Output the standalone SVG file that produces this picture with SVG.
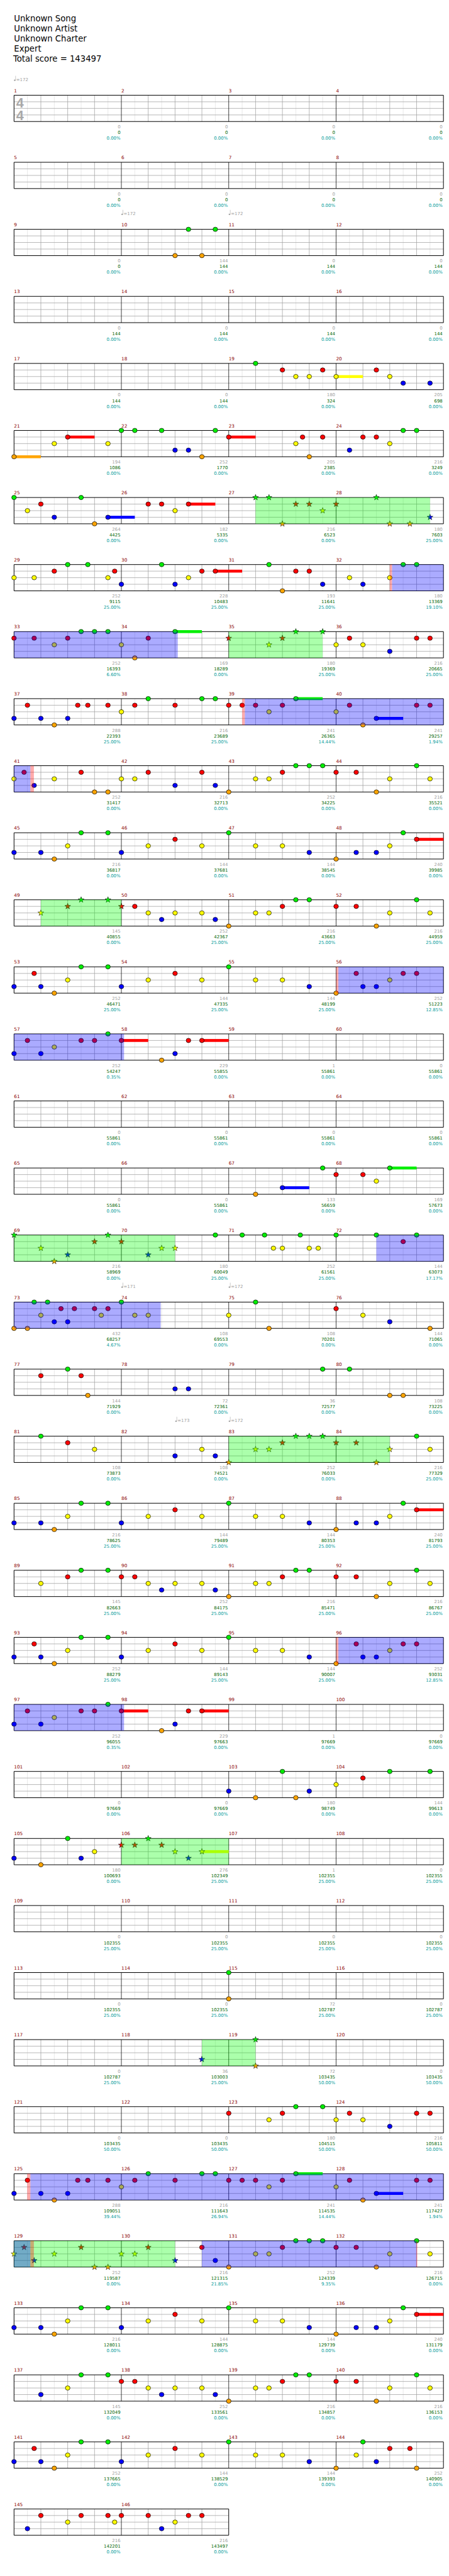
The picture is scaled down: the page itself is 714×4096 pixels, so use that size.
<svg xmlns="http://www.w3.org/2000/svg" width="714" height="4096" viewBox="0 0 714 4096">
<style>
text{font-family:"DejaVu Sans",sans-serif}
.h{font-size:19px;fill:#000}
.mn{font-size:10.5px;fill:#8b0000}
.a,.b,.c{font-size:10px;text-anchor:end}
.a{fill:#a0a0a0}.b{fill:#006400}.c{fill:#009a9a}
.t{font-size:10px;fill:#a0a0a0}
.ts{font-family:"Liberation Sans",Arial,sans-serif;font-weight:bold;font-size:31px;fill:#a8a8a8}
.gl,.gb,.gm,.gf{vector-effect:non-scaling-stroke;stroke-width:.75;fill:none}
.gl{stroke:#e2e2e2}.gb{stroke:#a0a0a0}.gm{stroke:#000}
.gf{stroke:#000;stroke-width:1}
.n{stroke:#000;stroke-width:1}
.m{stroke:#000;stroke-width:.8}
.so{fill:#00f;fill-opacity:.33}.sp{fill:#0f0;fill-opacity:.33}.sa{fill:#f00;fill-opacity:.33}
.zg{fill:#0e0}.zr{fill:#f00}.zy{fill:#ff0}.zb{fill:#00f}.zo{fill:#ffa500}
</style>
<defs>
<polygon id="st" points="0,-7 1.65,-2.27 6.66,-2.16 2.66,.87 4.11,5.66 0,2.8 -4.11,5.66 -2.66,.87 -6.66,-2.16 -1.65,-2.27"/>
<ellipse id="el" rx="5.3" ry="5"/>
<g id="g"><use href="#el" class="n" fill="#0e0" transform="scale(.032653,.066667)"/></g>
<g id="r"><use href="#el" class="n" fill="#f00" transform="translate(0,1) scale(.032653,.066667)"/></g>
<g id="y"><use href="#el" class="n" fill="#ff0" transform="translate(0,2) scale(.032653,.066667)"/></g>
<g id="b"><use href="#el" class="n" fill="#00f" transform="translate(0,3) scale(.032653,.066667)"/></g>
<g id="o"><use href="#el" class="n" fill="#ffa500" transform="translate(0,4) scale(.032653,.066667)"/></g>
<g id="G"><use href="#st" class="m" fill="#0e0" transform="scale(.032653,.066667)"/></g>
<g id="R"><use href="#st" class="m" fill="#f00" transform="translate(0,1) scale(.032653,.066667)"/></g>
<g id="Y"><use href="#st" class="m" fill="#ff0" transform="translate(0,2) scale(.032653,.066667)"/></g>
<g id="B"><use href="#st" class="m" fill="#00f" transform="translate(0,3) scale(.032653,.066667)"/></g>
<g id="O"><use href="#st" class="m" fill="#ffa500" transform="translate(0,4) scale(.032653,.066667)"/></g>
<g id="grid4">
<path class="gl" d="M1 0V4M3 0V4M5 0V4M7 0V4M9 0V4M11 0V4M13 0V4M15 0V4M17 0V4M19 0V4M21 0V4M23 0V4M25 0V4M27 0V4M29 0V4M31 0V4"/>
<path class="gb" d="M2 0V4M4 0V4M6 0V4M10 0V4M12 0V4M14 0V4M18 0V4M20 0V4M22 0V4M26 0V4M28 0V4M30 0V4M0 1H32M0 2H32M0 3H32"/>
<path class="gm" d="M8 0V4M16 0V4M24 0V4"/>
<rect class="gf" width="32" height="4"/>
</g>
<g id="grid2">
<path class="gl" d="M1 0V4M3 0V4M5 0V4M7 0V4M9 0V4M11 0V4M13 0V4M15 0V4"/>
<path class="gb" d="M2 0V4M4 0V4M6 0V4M10 0V4M12 0V4M14 0V4M0 1H16M0 2H16M0 3H16"/>
<path class="gm" d="M8 0V4"/>
<rect class="gf" width="16" height="4"/>
</g>
<g id="tempo"><ellipse cx="1.7" cy="-1.8" rx="2" ry="1.5" fill="#a0a0a0"/><path d="M3.5-1.8V-12" stroke="#a0a0a0" stroke-width=".8"/></g>
<g id="pA"><rect class="zr" x="30" y=".78" width="2" height=".44"/><use href="#g" x="5"/><use href="#g" x="7"/><use href="#g" x="16"/><use href="#g" x="29"/><use href="#r" x="12"/><use href="#r" x="30"/><use href="#y" x="4"/><use href="#y" x="10"/><use href="#y" x="14"/><use href="#y" x="18"/><use href="#y" x="20"/><use href="#y" x="28"/><use href="#b" x="0"/><use href="#b" x="2"/><use href="#b" x="8"/><use href="#b" x="22"/><use href="#b" x="25.5"/><use href="#b" x="27"/><use href="#o" x="3"/><use href="#o" x="24"/></g>
<g id="pB"><use href="#g" x="5"/><use href="#g" x="7"/><use href="#g" x="16"/><use href="#r" x="1.5"/><use href="#r" x="12"/><use href="#r" x="25.5"/><use href="#r" x="29"/><use href="#r" x="30"/><use href="#y" x="4"/><use href="#y" x="10"/><use href="#y" x="14"/><use href="#y" x="18"/><use href="#y" x="20"/><use href="#y" x="28"/><use href="#b" x="0"/><use href="#b" x="2"/><use href="#b" x="8"/><use href="#b" x="22"/><use href="#b" x="26"/><use href="#b" x="27"/><use href="#o" x="3"/><use href="#o" x="24"/></g>
<g id="pC"><rect class="zr" x="8" y=".78" width="2" height=".44"/><rect class="zr" x="14" y=".78" width="2" height=".44"/><use href="#g" x="7"/><use href="#r" x="1"/><use href="#r" x="5"/><use href="#r" x="6"/><use href="#r" x="8"/><use href="#r" x="13"/><use href="#r" x="14"/><use href="#y" x="3"/><use href="#b" x="0"/><use href="#b" x="2"/><use href="#b" x="12"/><use href="#o" x="11"/></g>
<g id="pD"><rect class="zg" x="21" y="-.22" width="2" height=".44"/><rect class="zb" x="27" y="2.78" width="2" height=".44"/><use href="#g" x="10"/><use href="#g" x="14"/><use href="#g" x="15"/><use href="#g" x="21"/><use href="#r" x="1"/><use href="#r" x="4.75"/><use href="#r" x="5.5"/><use href="#r" x="7"/><use href="#r" x="9"/><use href="#r" x="12"/><use href="#r" x="16"/><use href="#r" x="17"/><use href="#r" x="18"/><use href="#r" x="20"/><use href="#r" x="25"/><use href="#r" x="30"/><use href="#r" x="31"/><use href="#y" x="8"/><use href="#y" x="19"/><use href="#y" x="24"/><use href="#b" x="0"/><use href="#b" x="2"/><use href="#b" x="4"/><use href="#b" x="27"/><use href="#o" x="3"/><use href="#o" x="26"/></g>
<g id="pE"><use href="#r" x="9"/><use href="#r" x="20"/><use href="#r" x="24"/><use href="#r" x="25.5"/><use href="#g" x="21"/><use href="#g" x="22"/><use href="#g" x="30"/><use href="#y" x="10"/><use href="#y" x="12"/><use href="#y" x="14"/><use href="#y" x="18"/><use href="#y" x="19"/><use href="#y" x="28"/><use href="#y" x="31"/><use href="#b" x="11"/><use href="#b" x="15"/><use href="#o" x="16"/><use href="#o" x="27"/></g>
</defs>
<rect width="714" height="4096" fill="#fff"/>
<g transform="scale(0.6968)">
<g id="header">
<text class="h" x="32" y="49.5">Unknown Song</text>
<text class="h" x="32" y="72.3">Unknown Artist</text>
<text class="h" x="32" y="95.1">Unknown Charter</text>
<text class="h" x="32" y="117.9">Expert</text>
<text class="h" x="30" y="140.7">Total score = 143497</text>
</g>
<g id="tempos">
<use href="#tempo" x="32" y="185"/><text class="t" x="37" y="185">=172</text>
<use href="#tempo" x="277" y="491"/><text class="t" x="282" y="491">=172</text>
<use href="#tempo" x="522" y="491"/><text class="t" x="527" y="491">=172</text>
<use href="#tempo" x="277" y="2939"/><text class="t" x="282" y="2939">=171</text>
<use href="#tempo" x="522" y="2939"/><text class="t" x="527" y="2939">=172</text>
<use href="#tempo" x="400" y="3245"/><text class="t" x="405" y="3245">=173</text>
<use href="#tempo" x="522" y="3245"/><text class="t" x="527" y="3245">=172</text>
</g>

<g id="row1" transform="translate(32,217.3)">
<text class="mn" y="-7"><tspan x="0">1</tspan><tspan x="245">2</tspan><tspan x="490">3</tspan><tspan x="735">4</tspan></text>
<g transform="scale(30.625,15)"><use href="#grid4"/></g>
<text class="ts" x="5" y="27.7">4</text><text class="ts" x="5" y="56.7">4</text>
<text class="a" y="75.5"><tspan x="243">0</tspan><tspan x="488">0</tspan><tspan x="733">0</tspan><tspan x="978">0</tspan></text>
<text class="b" y="88.5"><tspan x="243">0</tspan><tspan x="488">0</tspan><tspan x="733">0</tspan><tspan x="978">0</tspan></text>
<text class="c" y="101.5"><tspan x="243">0.00%</tspan><tspan x="488">0.00%</tspan><tspan x="733">0.00%</tspan><tspan x="978">0.00%</tspan></text>
</g>

<g id="row2" transform="translate(32,370.3)">
<text class="mn" y="-7"><tspan x="0">5</tspan><tspan x="245">6</tspan><tspan x="490">7</tspan><tspan x="735">8</tspan></text>
<g transform="scale(30.625,15)"><use href="#grid4"/></g>
<text class="a" y="75.5"><tspan x="243">0</tspan><tspan x="488">0</tspan><tspan x="733">0</tspan><tspan x="978">0</tspan></text>
<text class="b" y="88.5"><tspan x="243">0</tspan><tspan x="488">0</tspan><tspan x="733">0</tspan><tspan x="978">0</tspan></text>
<text class="c" y="101.5"><tspan x="243">0.00%</tspan><tspan x="488">0.00%</tspan><tspan x="733">0.00%</tspan><tspan x="978">0.00%</tspan></text>
</g>

<g id="row3" transform="translate(32,523.3)">
<text class="mn" y="-7"><tspan x="0">9</tspan><tspan x="245">10</tspan><tspan x="490">11</tspan><tspan x="735">12</tspan></text>
<g transform="scale(30.625,15)"><use href="#grid4"/><use href="#g" x="13"/><use href="#g" x="15"/><use href="#o" x="12"/><use href="#o" x="14"/></g>
<text class="a" y="75.5"><tspan x="243">0</tspan><tspan x="488">144</tspan><tspan x="733">0</tspan><tspan x="978">0</tspan></text>
<text class="b" y="88.5"><tspan x="243">0</tspan><tspan x="488">144</tspan><tspan x="733">144</tspan><tspan x="978">144</tspan></text>
<text class="c" y="101.5"><tspan x="243">0.00%</tspan><tspan x="488">0.00%</tspan><tspan x="733">0.00%</tspan><tspan x="978">0.00%</tspan></text>
</g>

<g id="row4" transform="translate(32,676.3)">
<text class="mn" y="-7"><tspan x="0">13</tspan><tspan x="245">14</tspan><tspan x="490">15</tspan><tspan x="735">16</tspan></text>
<g transform="scale(30.625,15)"><use href="#grid4"/></g>
<text class="a" y="75.5"><tspan x="243">0</tspan><tspan x="488">0</tspan><tspan x="733">0</tspan><tspan x="978">0</tspan></text>
<text class="b" y="88.5"><tspan x="243">144</tspan><tspan x="488">144</tspan><tspan x="733">144</tspan><tspan x="978">144</tspan></text>
<text class="c" y="101.5"><tspan x="243">0.00%</tspan><tspan x="488">0.00%</tspan><tspan x="733">0.00%</tspan><tspan x="978">0.00%</tspan></text>
</g>

<g id="row5" transform="translate(32,829.3)">
<text class="mn" y="-7"><tspan x="0">17</tspan><tspan x="245">18</tspan><tspan x="490">19</tspan><tspan x="735">20</tspan></text>
<g transform="scale(30.625,15)"><use href="#grid4"/><rect class="zy" x="24" y="1.78" width="2" height=".44"/><use href="#g" x="18"/><use href="#r" x="20"/><use href="#r" x="23"/><use href="#r" x="27"/><use href="#y" x="21"/><use href="#y" x="22"/><use href="#y" x="24"/><use href="#y" x="28"/><use href="#b" x="29"/><use href="#b" x="31"/></g>
<text class="a" y="75.5"><tspan x="243">0</tspan><tspan x="488">0</tspan><tspan x="733">180</tspan><tspan x="978">205</tspan></text>
<text class="b" y="88.5"><tspan x="243">144</tspan><tspan x="488">144</tspan><tspan x="733">324</tspan><tspan x="978">698</tspan></text>
<text class="c" y="101.5"><tspan x="243">0.00%</tspan><tspan x="488">0.00%</tspan><tspan x="733">0.00%</tspan><tspan x="978">0.00%</tspan></text>
</g>

<g id="row6" transform="translate(32,982.3)">
<text class="mn" y="-7"><tspan x="0">21</tspan><tspan x="245">22</tspan><tspan x="490">23</tspan><tspan x="735">24</tspan></text>
<g transform="scale(30.625,15)"><use href="#grid4"/><rect class="zr" x="4" y=".78" width="2" height=".44"/><rect class="zr" x="16" y=".78" width="2" height=".44"/><rect class="zo" x="0" y="3.78" width="2" height=".44"/><use href="#g" x="8"/><use href="#g" x="9"/><use href="#g" x="11"/><use href="#g" x="15"/><use href="#g" x="29"/><use href="#g" x="30"/><use href="#r" x="4"/><use href="#r" x="16"/><use href="#r" x="21.5"/><use href="#r" x="23"/><use href="#r" x="26"/><use href="#r" x="27"/><use href="#y" x="3"/><use href="#y" x="7"/><use href="#y" x="21"/><use href="#y" x="28"/><use href="#b" x="12"/><use href="#b" x="13"/><use href="#b" x="25"/><use href="#o" x="0"/><use href="#o" x="14"/><use href="#o" x="22"/></g>
<text class="a" y="75.5"><tspan x="243">194</tspan><tspan x="488">252</tspan><tspan x="733">205</tspan><tspan x="978">216</tspan></text>
<text class="b" y="88.5"><tspan x="243">1086</tspan><tspan x="488">1770</tspan><tspan x="733">2385</tspan><tspan x="978">3249</tspan></text>
<text class="c" y="101.5"><tspan x="243">0.00%</tspan><tspan x="488">0.00%</tspan><tspan x="733">0.00%</tspan><tspan x="978">0.00%</tspan></text>
</g>

<g id="row7" transform="translate(32,1135.3)">
<text class="mn" y="-7"><tspan x="0">25</tspan><tspan x="245">26</tspan><tspan x="490">27</tspan><tspan x="735">28</tspan></text>
<g transform="scale(30.625,15)"><use href="#grid4"/><rect class="zr" x="13" y=".78" width="2" height=".44"/><rect class="zb" x="7" y="2.78" width="2" height=".44"/><use href="#g" x="0"/><use href="#g" x="5"/><use href="#r" x="2"/><use href="#r" x="10"/><use href="#r" x="11"/><use href="#r" x="13"/><use href="#y" x="1"/><use href="#y" x="12"/><use href="#b" x="3"/><use href="#b" x="7"/><use href="#o" x="6"/><use href="#G" x="18"/><use href="#G" x="19"/><use href="#G" x="27"/><use href="#R" x="21"/><use href="#R" x="22"/><use href="#R" x="24"/><use href="#Y" x="23"/><use href="#B" x="31"/><use href="#O" x="20"/><use href="#O" x="28"/><use href="#O" x="29.5"/><rect class="sp" x="18" width="13" height="4"/></g>
<text class="a" y="75.5"><tspan x="243">264</tspan><tspan x="488">182</tspan><tspan x="733">216</tspan><tspan x="978">180</tspan></text>
<text class="b" y="88.5"><tspan x="243">4425</tspan><tspan x="488">5335</tspan><tspan x="733">6523</tspan><tspan x="978">7603</tspan></text>
<text class="c" y="101.5"><tspan x="243">0.00%</tspan><tspan x="488">0.00%</tspan><tspan x="733">0.00%</tspan><tspan x="978">25.00%</tspan></text>
</g>

<g id="row8" transform="translate(32,1288.3)">
<text class="mn" y="-7"><tspan x="0">29</tspan><tspan x="245">30</tspan><tspan x="490">31</tspan><tspan x="735">32</tspan></text>
<g transform="scale(30.625,15)"><use href="#grid4"/><rect class="zr" x="15" y=".78" width="2" height=".44"/><use href="#g" x="4"/><use href="#g" x="5.5"/><use href="#g" x="11"/><use href="#g" x="19"/><use href="#g" x="29"/><use href="#g" x="30"/><use href="#r" x="3"/><use href="#r" x="7.5"/><use href="#r" x="14"/><use href="#r" x="15"/><use href="#r" x="21"/><use href="#r" x="22"/><use href="#y" x="0"/><use href="#y" x="1.5"/><use href="#y" x="7"/><use href="#y" x="13"/><use href="#y" x="25"/><use href="#y" x="28"/><use href="#b" x="8"/><use href="#b" x="12"/><use href="#b" x="23"/><use href="#b" x="26"/><use href="#o" x="20"/><rect class="sa" x="28" width=".17" height="4"/><rect class="so" x="28.17" width="3.83" height="4"/></g>
<text class="a" y="75.5"><tspan x="243">252</tspan><tspan x="488">228</tspan><tspan x="733">193</tspan><tspan x="978">180</tspan></text>
<text class="b" y="88.5"><tspan x="243">9115</tspan><tspan x="488">10483</tspan><tspan x="733">11641</tspan><tspan x="978">13369</tspan></text>
<text class="c" y="101.5"><tspan x="243">25.00%</tspan><tspan x="488">25.00%</tspan><tspan x="733">25.00%</tspan><tspan x="978">19.10%</tspan></text>
</g>

<g id="row9" transform="translate(32,1441.3)">
<text class="mn" y="-7"><tspan x="0">33</tspan><tspan x="245">34</tspan><tspan x="490">35</tspan><tspan x="735">36</tspan></text>
<g transform="scale(30.625,15)"><use href="#grid4"/><rect class="zg" x="12" y="-.22" width="2" height=".44"/><use href="#g" x="5"/><use href="#g" x="6"/><use href="#g" x="7"/><use href="#g" x="12"/><use href="#r" x="0"/><use href="#r" x="1.5"/><use href="#r" x="4"/><use href="#r" x="10"/><use href="#r" x="25"/><use href="#r" x="30"/><use href="#r" x="31"/><use href="#y" x="3"/><use href="#y" x="8"/><use href="#y" x="24"/><use href="#y" x="26"/><use href="#b" x="28"/><use href="#o" x="9"/><use href="#R" x="16"/><use href="#R" x="20"/><use href="#G" x="21"/><use href="#G" x="23"/><use href="#Y" x="19"/><rect class="so" x="0" width="12.2" height="4"/><rect class="sp" x="16" width="7" height="4"/></g>
<text class="a" y="75.5"><tspan x="243">252</tspan><tspan x="488">169</tspan><tspan x="733">180</tspan><tspan x="978">216</tspan></text>
<text class="b" y="88.5"><tspan x="243">16393</tspan><tspan x="488">18289</tspan><tspan x="733">19369</tspan><tspan x="978">20665</tspan></text>
<text class="c" y="101.5"><tspan x="243">6.60%</tspan><tspan x="488">0.00%</tspan><tspan x="733">25.00%</tspan><tspan x="978">25.00%</tspan></text>
</g>

<g id="row10" transform="translate(32,1594.3)">
<text class="mn" y="-7"><tspan x="0">37</tspan><tspan x="245">38</tspan><tspan x="490">39</tspan><tspan x="735">40</tspan></text>
<g transform="scale(30.625,15)"><use href="#grid4"/><use href="#pD"/><rect class="sa" x="17" width=".2" height="4"/><rect class="so" x="17.2" width="14.8" height="4"/></g>
<text class="a" y="75.5"><tspan x="243">288</tspan><tspan x="488">216</tspan><tspan x="733">241</tspan><tspan x="978">241</tspan></text>
<text class="b" y="88.5"><tspan x="243">22393</tspan><tspan x="488">23689</tspan><tspan x="733">26365</tspan><tspan x="978">29257</tspan></text>
<text class="c" y="101.5"><tspan x="243">25.00%</tspan><tspan x="488">25.00%</tspan><tspan x="733">14.44%</tspan><tspan x="978">1.94%</tspan></text>
</g>

<g id="row11" transform="translate(32,1747.3)">
<text class="mn" y="-7"><tspan x="0">41</tspan><tspan x="245">42</tspan><tspan x="490">43</tspan><tspan x="735">44</tspan></text>
<g transform="scale(30.625,15)"><use href="#grid4"/><use href="#g" x="21"/><use href="#g" x="22"/><use href="#g" x="23"/><use href="#g" x="30"/><use href="#r" x=".75"/><use href="#r" x="5"/><use href="#r" x="10"/><use href="#r" x="14"/><use href="#r" x="20"/><use href="#r" x="24"/><use href="#r" x="25.5"/><use href="#y" x="0"/><use href="#y" x="3"/><use href="#y" x="8"/><use href="#y" x="9"/><use href="#y" x="18"/><use href="#y" x="19"/><use href="#y" x="28"/><use href="#y" x="31"/><use href="#b" x="1.5"/><use href="#b" x="12"/><use href="#b" x="15"/><use href="#o" x="6"/><use href="#o" x="7"/><use href="#o" x="16"/><use href="#o" x="27"/><rect class="so" x="0" width="1.22" height="4"/><rect class="sa" x="1.22" width=".26" height="4"/></g>
<text class="a" y="75.5"><tspan x="243">252</tspan><tspan x="488">216</tspan><tspan x="733">252</tspan><tspan x="978">216</tspan></text>
<text class="b" y="88.5"><tspan x="243">31417</tspan><tspan x="488">32713</tspan><tspan x="733">34225</tspan><tspan x="978">35521</tspan></text>
<text class="c" y="101.5"><tspan x="243">0.00%</tspan><tspan x="488">0.00%</tspan><tspan x="733">0.00%</tspan><tspan x="978">0.00%</tspan></text>
</g>

<g id="row12" transform="translate(32,1900.3)">
<text class="mn" y="-7"><tspan x="0">45</tspan><tspan x="245">46</tspan><tspan x="490">47</tspan><tspan x="735">48</tspan></text>
<g transform="scale(30.625,15)"><use href="#grid4"/><use href="#pA"/></g>
<text class="a" y="75.5"><tspan x="243">216</tspan><tspan x="488">144</tspan><tspan x="733">144</tspan><tspan x="978">240</tspan></text>
<text class="b" y="88.5"><tspan x="243">36817</tspan><tspan x="488">37681</tspan><tspan x="733">38545</tspan><tspan x="978">39985</tspan></text>
<text class="c" y="101.5"><tspan x="243">0.00%</tspan><tspan x="488">0.00%</tspan><tspan x="733">0.00%</tspan><tspan x="978">0.00%</tspan></text>
</g>

<g id="row13" transform="translate(32,2053.3)">
<text class="mn" y="-7"><tspan x="0">49</tspan><tspan x="245">50</tspan><tspan x="490">51</tspan><tspan x="735">52</tspan></text>
<g transform="scale(30.625,15)"><use href="#grid4"/><use href="#pE"/><use href="#Y" x="2"/><use href="#R" x="4"/><use href="#G" x="5"/><use href="#G" x="7"/><use href="#R" x="8"/><rect class="sp" x="2" width="6" height="4"/></g>
<text class="a" y="75.5"><tspan x="243">145</tspan><tspan x="488">252</tspan><tspan x="733">216</tspan><tspan x="978">216</tspan></text>
<text class="b" y="88.5"><tspan x="243">40855</tspan><tspan x="488">42367</tspan><tspan x="733">43663</tspan><tspan x="978">44959</tspan></text>
<text class="c" y="101.5"><tspan x="243">0.00%</tspan><tspan x="488">25.00%</tspan><tspan x="733">25.00%</tspan><tspan x="978">25.00%</tspan></text>
</g>

<g id="row14" transform="translate(32,2206.3)">
<text class="mn" y="-7"><tspan x="0">53</tspan><tspan x="245">54</tspan><tspan x="490">55</tspan><tspan x="735">56</tspan></text>
<g transform="scale(30.625,15)"><use href="#grid4"/><use href="#pB"/><rect class="sa" x="24" width=".17" height="4"/><rect class="so" x="24.17" width="7.83" height="4"/></g>
<text class="a" y="75.5"><tspan x="243">252</tspan><tspan x="488">144</tspan><tspan x="733">144</tspan><tspan x="978">252</tspan></text>
<text class="b" y="88.5"><tspan x="243">46471</tspan><tspan x="488">47335</tspan><tspan x="733">48199</tspan><tspan x="978">51223</tspan></text>
<text class="c" y="101.5"><tspan x="243">25.00%</tspan><tspan x="488">25.00%</tspan><tspan x="733">25.00%</tspan><tspan x="978">12.85%</tspan></text>
</g>

<g id="row15" transform="translate(32,2359.3)">
<text class="mn" y="-7"><tspan x="0">57</tspan><tspan x="245">58</tspan><tspan x="490">59</tspan><tspan x="735">60</tspan></text>
<g transform="scale(30.625,15)"><use href="#grid4"/><use href="#pC"/><rect class="so" x="0" width="8.2" height="4"/></g>
<text class="a" y="75.5"><tspan x="243">252</tspan><tspan x="488">229</tspan><tspan x="733">1</tspan><tspan x="978">0</tspan></text>
<text class="b" y="88.5"><tspan x="243">54247</tspan><tspan x="488">55855</tspan><tspan x="733">55861</tspan><tspan x="978">55861</tspan></text>
<text class="c" y="101.5"><tspan x="243">0.35%</tspan><tspan x="488">0.00%</tspan><tspan x="733">0.00%</tspan><tspan x="978">0.00%</tspan></text>
</g>

<g id="row16" transform="translate(32,2512.3)">
<text class="mn" y="-7"><tspan x="0">61</tspan><tspan x="245">62</tspan><tspan x="490">63</tspan><tspan x="735">64</tspan></text>
<g transform="scale(30.625,15)"><use href="#grid4"/></g>
<text class="a" y="75.5"><tspan x="243">0</tspan><tspan x="488">0</tspan><tspan x="733">0</tspan><tspan x="978">0</tspan></text>
<text class="b" y="88.5"><tspan x="243">55861</tspan><tspan x="488">55861</tspan><tspan x="733">55861</tspan><tspan x="978">55861</tspan></text>
<text class="c" y="101.5"><tspan x="243">0.00%</tspan><tspan x="488">0.00%</tspan><tspan x="733">0.00%</tspan><tspan x="978">0.00%</tspan></text>
</g>

<g id="row17" transform="translate(32,2665.3)">
<text class="mn" y="-7"><tspan x="0">65</tspan><tspan x="245">66</tspan><tspan x="490">67</tspan><tspan x="735">68</tspan></text>
<g transform="scale(30.625,15)"><use href="#grid4"/><rect class="zb" x="20" y="2.78" width="2" height=".44"/><rect class="zg" x="28" y="-.22" width="2" height=".44"/><use href="#o" x="18"/><use href="#b" x="20"/><use href="#g" x="23"/><use href="#g" x="28"/><use href="#r" x="24"/><use href="#r" x="26"/><use href="#y" x="27"/></g>
<text class="a" y="75.5"><tspan x="243">0</tspan><tspan x="488">0</tspan><tspan x="733">133</tspan><tspan x="978">169</tspan></text>
<text class="b" y="88.5"><tspan x="243">55861</tspan><tspan x="488">55861</tspan><tspan x="733">56659</tspan><tspan x="978">57673</tspan></text>
<text class="c" y="101.5"><tspan x="243">0.00%</tspan><tspan x="488">0.00%</tspan><tspan x="733">0.00%</tspan><tspan x="978">0.00%</tspan></text>
</g>

<g id="row18" transform="translate(32,2818.3)">
<text class="mn" y="-7"><tspan x="0">69</tspan><tspan x="245">70</tspan><tspan x="490">71</tspan><tspan x="735">72</tspan></text>
<g transform="scale(30.625,15)"><use href="#grid4"/><use href="#G" x="0"/><use href="#G" x="7"/><use href="#R" x="6"/><use href="#R" x="8"/><use href="#Y" x="2"/><use href="#Y" x="11"/><use href="#Y" x="12"/><use href="#B" x="4"/><use href="#B" x="10"/><use href="#O" x="3"/><use href="#g" x="15"/><use href="#g" x="17"/><use href="#g" x="18.67"/><use href="#g" x="21.33"/><use href="#g" x="24"/><use href="#g" x="27"/><use href="#g" x="30"/><use href="#y" x="19.33"/><use href="#y" x="20"/><use href="#y" x="22"/><use href="#y" x="22.67"/><use href="#r" x="29"/><rect class="sp" x="0" width="12" height="4"/><rect class="so" x="27" width="5" height="4"/></g>
<text class="a" y="75.5"><tspan x="243">216</tspan><tspan x="488">180</tspan><tspan x="733">252</tspan><tspan x="978">144</tspan></text>
<text class="b" y="88.5"><tspan x="243">58969</tspan><tspan x="488">60049</tspan><tspan x="733">61561</tspan><tspan x="978">63073</tspan></text>
<text class="c" y="101.5"><tspan x="243">0.00%</tspan><tspan x="488">25.00%</tspan><tspan x="733">25.00%</tspan><tspan x="978">17.17%</tspan></text>
</g>

<g id="row19" transform="translate(32,2971.3)">
<text class="mn" y="-7"><tspan x="0">73</tspan><tspan x="245">74</tspan><tspan x="490">75</tspan><tspan x="735">76</tspan></text>
<g transform="scale(30.625,15)"><use href="#grid4"/><use href="#g" x="1.5"/><use href="#g" x="2.5"/><use href="#g" x="8"/><use href="#g" x="18"/><use href="#r" x="3.5"/><use href="#r" x="4.5"/><use href="#r" x="6"/><use href="#r" x="7"/><use href="#r" x="24"/><use href="#y" x="2"/><use href="#y" x="6.5"/><use href="#y" x="9"/><use href="#y" x="10"/><use href="#y" x="16"/><use href="#y" x="26"/><use href="#b" x="3"/><use href="#b" x="4"/><use href="#b" x="28"/><use href="#o" x="0"/><use href="#o" x="1"/><use href="#o" x="19"/><use href="#o" x="31"/><rect class="so" x="0" width="10.93" height="4"/></g>
<text class="a" y="75.5"><tspan x="243">432</tspan><tspan x="488">108</tspan><tspan x="733">108</tspan><tspan x="978">144</tspan></text>
<text class="b" y="88.5"><tspan x="243">68257</tspan><tspan x="488">69553</tspan><tspan x="733">70201</tspan><tspan x="978">71065</tspan></text>
<text class="c" y="101.5"><tspan x="243">4.67%</tspan><tspan x="488">0.00%</tspan><tspan x="733">0.00%</tspan><tspan x="978">0.00%</tspan></text>
</g>

<g id="row20" transform="translate(32,3124.3)">
<text class="mn" y="-7"><tspan x="0">77</tspan><tspan x="245">78</tspan><tspan x="490">79</tspan><tspan x="735">80</tspan></text>
<g transform="scale(30.625,15)"><use href="#grid4"/><use href="#g" x="4"/><use href="#g" x="23"/><use href="#g" x="25"/><use href="#r" x="2"/><use href="#r" x="5"/><use href="#b" x="12"/><use href="#b" x="13"/><use href="#o" x="5.5"/><use href="#o" x="28"/><use href="#o" x="29"/></g>
<text class="a" y="75.5"><tspan x="243">144</tspan><tspan x="488">72</tspan><tspan x="733">36</tspan><tspan x="978">108</tspan></text>
<text class="b" y="88.5"><tspan x="243">71929</tspan><tspan x="488">72361</tspan><tspan x="733">72577</tspan><tspan x="978">73225</tspan></text>
<text class="c" y="101.5"><tspan x="243">0.00%</tspan><tspan x="488">0.00%</tspan><tspan x="733">0.00%</tspan><tspan x="978">0.00%</tspan></text>
</g>

<g id="row21" transform="translate(32,3277.3)">
<text class="mn" y="-7"><tspan x="0">81</tspan><tspan x="245">82</tspan><tspan x="490">83</tspan><tspan x="735">84</tspan></text>
<g transform="scale(30.625,15)"><use href="#grid4"/><use href="#g" x="2"/><use href="#g" x="30"/><use href="#r" x="4"/><use href="#y" x="6"/><use href="#y" x="14"/><use href="#y" x="31"/><use href="#b" x="12"/><use href="#b" x="15"/><use href="#O" x="16"/><use href="#Y" x="18"/><use href="#Y" x="19"/><use href="#R" x="20"/><use href="#G" x="21"/><use href="#G" x="22"/><use href="#G" x="23"/><use href="#R" x="24"/><use href="#R" x="25.5"/><use href="#O" x="27"/><use href="#Y" x="28"/><rect class="sp" x="16" width="12" height="4"/></g>
<text class="a" y="75.5"><tspan x="243">108</tspan><tspan x="488">108</tspan><tspan x="733">252</tspan><tspan x="978">216</tspan></text>
<text class="b" y="88.5"><tspan x="243">73873</tspan><tspan x="488">74521</tspan><tspan x="733">76033</tspan><tspan x="978">77329</tspan></text>
<text class="c" y="101.5"><tspan x="243">0.00%</tspan><tspan x="488">0.00%</tspan><tspan x="733">0.00%</tspan><tspan x="978">25.00%</tspan></text>
</g>

<g id="row22" transform="translate(32,3430.3)">
<text class="mn" y="-7"><tspan x="0">85</tspan><tspan x="245">86</tspan><tspan x="490">87</tspan><tspan x="735">88</tspan></text>
<g transform="scale(30.625,15)"><use href="#grid4"/><use href="#pA"/></g>
<text class="a" y="75.5"><tspan x="243">216</tspan><tspan x="488">144</tspan><tspan x="733">144</tspan><tspan x="978">240</tspan></text>
<text class="b" y="88.5"><tspan x="243">78625</tspan><tspan x="488">79489</tspan><tspan x="733">80353</tspan><tspan x="978">81793</tspan></text>
<text class="c" y="101.5"><tspan x="243">25.00%</tspan><tspan x="488">25.00%</tspan><tspan x="733">25.00%</tspan><tspan x="978">25.00%</tspan></text>
</g>

<g id="row23" transform="translate(32,3583.3)">
<text class="mn" y="-7"><tspan x="0">89</tspan><tspan x="245">90</tspan><tspan x="490">91</tspan><tspan x="735">92</tspan></text>
<g transform="scale(30.625,15)"><use href="#grid4"/><use href="#pE"/><use href="#y" x="2"/><use href="#r" x="4"/><use href="#g" x="5"/><use href="#g" x="7"/><use href="#r" x="8"/></g>
<text class="a" y="75.5"><tspan x="243">145</tspan><tspan x="488">252</tspan><tspan x="733">216</tspan><tspan x="978">216</tspan></text>
<text class="b" y="88.5"><tspan x="243">82663</tspan><tspan x="488">84175</tspan><tspan x="733">85471</tspan><tspan x="978">86767</tspan></text>
<text class="c" y="101.5"><tspan x="243">25.00%</tspan><tspan x="488">25.00%</tspan><tspan x="733">25.00%</tspan><tspan x="978">25.00%</tspan></text>
</g>

<g id="row24" transform="translate(32,3736.3)">
<text class="mn" y="-7"><tspan x="0">93</tspan><tspan x="245">94</tspan><tspan x="490">95</tspan><tspan x="735">96</tspan></text>
<g transform="scale(30.625,15)"><use href="#grid4"/><use href="#pB"/><rect class="sa" x="24" width=".17" height="4"/><rect class="so" x="24.17" width="7.83" height="4"/></g>
<text class="a" y="75.5"><tspan x="243">252</tspan><tspan x="488">144</tspan><tspan x="733">144</tspan><tspan x="978">252</tspan></text>
<text class="b" y="88.5"><tspan x="243">88279</tspan><tspan x="488">89143</tspan><tspan x="733">90007</tspan><tspan x="978">93031</tspan></text>
<text class="c" y="101.5"><tspan x="243">25.00%</tspan><tspan x="488">25.00%</tspan><tspan x="733">25.00%</tspan><tspan x="978">12.85%</tspan></text>
</g>

<g id="row25" transform="translate(32,3889.3)">
<text class="mn" y="-7"><tspan x="0">97</tspan><tspan x="245">98</tspan><tspan x="490">99</tspan><tspan x="735">100</tspan></text>
<g transform="scale(30.625,15)"><use href="#grid4"/><use href="#pC"/><rect class="so" x="0" width="8.2" height="4"/></g>
<text class="a" y="75.5"><tspan x="243">252</tspan><tspan x="488">229</tspan><tspan x="733">1</tspan><tspan x="978">0</tspan></text>
<text class="b" y="88.5"><tspan x="243">96055</tspan><tspan x="488">97663</tspan><tspan x="733">97669</tspan><tspan x="978">97669</tspan></text>
<text class="c" y="101.5"><tspan x="243">0.35%</tspan><tspan x="488">0.00%</tspan><tspan x="733">0.00%</tspan><tspan x="978">0.00%</tspan></text>
</g>

<g id="row26" transform="translate(32,4042.3)">
<text class="mn" y="-7"><tspan x="0">101</tspan><tspan x="245">102</tspan><tspan x="490">103</tspan><tspan x="735">104</tspan></text>
<g transform="scale(30.625,15)"><use href="#grid4"/><use href="#b" x="16"/><use href="#b" x="22"/><use href="#o" x="18"/><use href="#o" x="21"/><use href="#g" x="20"/><use href="#g" x="28"/><use href="#g" x="31"/><use href="#y" x="24"/><use href="#r" x="26"/></g>
<text class="a" y="75.5"><tspan x="243">0</tspan><tspan x="488">0</tspan><tspan x="733">180</tspan><tspan x="978">144</tspan></text>
<text class="b" y="88.5"><tspan x="243">97669</tspan><tspan x="488">97669</tspan><tspan x="733">98749</tspan><tspan x="978">99613</tspan></text>
<text class="c" y="101.5"><tspan x="243">0.00%</tspan><tspan x="488">0.00%</tspan><tspan x="733">0.00%</tspan><tspan x="978">0.00%</tspan></text>
</g>

<g id="row27" transform="translate(32,4195.3)">
<text class="mn" y="-7"><tspan x="0">105</tspan><tspan x="245">106</tspan><tspan x="490">107</tspan><tspan x="735">108</tspan></text>
<g transform="scale(30.625,15)"><use href="#grid4"/><rect class="zy" x="14" y="1.78" width="2" height=".44"/><use href="#g" x="4"/><use href="#y" x="6"/><use href="#b" x="0"/><use href="#b" x="5"/><use href="#o" x="2"/><use href="#R" x="8"/><use href="#R" x="9"/><use href="#R" x="11"/><use href="#G" x="10"/><use href="#Y" x="12"/><use href="#Y" x="14"/><use href="#B" x="13"/><rect class="sp" x="8" width="8" height="4"/></g>
<text class="a" y="75.5"><tspan x="243">180</tspan><tspan x="488">276</tspan><tspan x="733">1</tspan><tspan x="978">0</tspan></text>
<text class="b" y="88.5"><tspan x="243">100693</tspan><tspan x="488">102349</tspan><tspan x="733">102355</tspan><tspan x="978">102355</tspan></text>
<text class="c" y="101.5"><tspan x="243">0.00%</tspan><tspan x="488">25.00%</tspan><tspan x="733">25.00%</tspan><tspan x="978">25.00%</tspan></text>
</g>

<g id="row28" transform="translate(32,4348.3)">
<text class="mn" y="-7"><tspan x="0">109</tspan><tspan x="245">110</tspan><tspan x="490">111</tspan><tspan x="735">112</tspan></text>
<g transform="scale(30.625,15)"><use href="#grid4"/></g>
<text class="a" y="75.5"><tspan x="243">0</tspan><tspan x="488">0</tspan><tspan x="733">0</tspan><tspan x="978">0</tspan></text>
<text class="b" y="88.5"><tspan x="243">102355</tspan><tspan x="488">102355</tspan><tspan x="733">102355</tspan><tspan x="978">102355</tspan></text>
<text class="c" y="101.5"><tspan x="243">25.00%</tspan><tspan x="488">25.00%</tspan><tspan x="733">25.00%</tspan><tspan x="978">25.00%</tspan></text>
</g>

<g id="row29" transform="translate(32,4501.3)">
<text class="mn" y="-7"><tspan x="0">113</tspan><tspan x="245">114</tspan><tspan x="490">115</tspan><tspan x="735">116</tspan></text>
<g transform="scale(30.625,15)"><use href="#grid4"/><use href="#g" x="16"/><use href="#o" x="16"/></g>
<text class="a" y="75.5"><tspan x="243">0</tspan><tspan x="488">0</tspan><tspan x="733">72</tspan><tspan x="978">0</tspan></text>
<text class="b" y="88.5"><tspan x="243">102355</tspan><tspan x="488">102355</tspan><tspan x="733">102787</tspan><tspan x="978">102787</tspan></text>
<text class="c" y="101.5"><tspan x="243">25.00%</tspan><tspan x="488">25.00%</tspan><tspan x="733">25.00%</tspan><tspan x="978">25.00%</tspan></text>
</g>

<g id="row30" transform="translate(32,4654.3)">
<text class="mn" y="-7"><tspan x="0">117</tspan><tspan x="245">118</tspan><tspan x="490">119</tspan><tspan x="735">120</tspan></text>
<g transform="scale(30.625,15)"><use href="#grid4"/><use href="#B" x="14"/><use href="#G" x="18"/><use href="#O" x="18"/><rect class="sp" x="14" width="4" height="4"/></g>
<text class="a" y="75.5"><tspan x="243">0</tspan><tspan x="488">36</tspan><tspan x="733">72</tspan><tspan x="978">0</tspan></text>
<text class="b" y="88.5"><tspan x="243">102787</tspan><tspan x="488">103003</tspan><tspan x="733">103435</tspan><tspan x="978">103435</tspan></text>
<text class="c" y="101.5"><tspan x="243">25.00%</tspan><tspan x="488">25.00%</tspan><tspan x="733">50.00%</tspan><tspan x="978">50.00%</tspan></text>
</g>

<g id="row31" transform="translate(32,4807.3)">
<text class="mn" y="-7"><tspan x="0">121</tspan><tspan x="245">122</tspan><tspan x="490">123</tspan><tspan x="735">124</tspan></text>
<g transform="scale(30.625,15)"><use href="#grid4"/><use href="#r" x="16"/><use href="#r" x="20"/><use href="#r" x="25"/><use href="#r" x="30"/><use href="#r" x="31"/><use href="#g" x="21"/><use href="#g" x="23"/><use href="#y" x="19"/><use href="#y" x="24"/><use href="#y" x="26"/><use href="#b" x="28"/></g>
<text class="a" y="75.5"><tspan x="243">0</tspan><tspan x="488">0</tspan><tspan x="733">180</tspan><tspan x="978">216</tspan></text>
<text class="b" y="88.5"><tspan x="243">103435</tspan><tspan x="488">103435</tspan><tspan x="733">104515</tspan><tspan x="978">105811</tspan></text>
<text class="c" y="101.5"><tspan x="243">50.00%</tspan><tspan x="488">50.00%</tspan><tspan x="733">50.00%</tspan><tspan x="978">50.00%</tspan></text>
</g>

<g id="row32" transform="translate(32,4960.3)">
<text class="mn" y="-7"><tspan x="0">125</tspan><tspan x="245">126</tspan><tspan x="490">127</tspan><tspan x="735">128</tspan></text>
<g transform="scale(30.625,15)"><use href="#grid4"/><use href="#pD"/><rect class="sa" x=".98" width=".24" height="4"/><rect class="so" x="1.22" width="30.78" height="4"/></g>
<text class="a" y="75.5"><tspan x="243">288</tspan><tspan x="488">216</tspan><tspan x="733">241</tspan><tspan x="978">241</tspan></text>
<text class="b" y="88.5"><tspan x="243">109051</tspan><tspan x="488">111643</tspan><tspan x="733">114535</tspan><tspan x="978">117427</tspan></text>
<text class="c" y="101.5"><tspan x="243">39.44%</tspan><tspan x="488">26.94%</tspan><tspan x="733">14.44%</tspan><tspan x="978">1.94%</tspan></text>
</g>

<g id="row33" transform="translate(32,5113.3)">
<text class="mn" y="-7"><tspan x="0">129</tspan><tspan x="245">130</tspan><tspan x="490">131</tspan><tspan x="735">132</tspan></text>
<g transform="scale(30.625,15)"><use href="#grid4"/><use href="#Y" x="0"/><use href="#R" x=".75"/><use href="#B" x="1.5"/><use href="#Y" x="3"/><use href="#R" x="5"/><use href="#O" x="6"/><use href="#O" x="7"/><use href="#Y" x="8"/><use href="#Y" x="9"/><use href="#R" x="10"/><use href="#B" x="12"/><use href="#r" x="14"/><use href="#b" x="15"/><use href="#o" x="16"/><use href="#y" x="18"/><use href="#y" x="19"/><use href="#r" x="20"/><use href="#g" x="21"/><use href="#g" x="22"/><use href="#g" x="23"/><use href="#r" x="24"/><use href="#r" x="25.5"/><use href="#o" x="27"/><use href="#y" x="28"/><use href="#g" x="30"/><use href="#y" x="31"/><rect class="sp" x="0" width="12" height="4"/><rect class="so" x="0" width="1.22" height="4"/><rect class="sa" x="1.22" width=".26" height="4"/><rect class="so" x="14" width="16" height="4"/><rect class="sa" x="29.97" width=".08" height="4"/></g>
<text class="a" y="75.5"><tspan x="243">252</tspan><tspan x="488">216</tspan><tspan x="733">252</tspan><tspan x="978">216</tspan></text>
<text class="b" y="88.5"><tspan x="243">119587</tspan><tspan x="488">121315</tspan><tspan x="733">124339</tspan><tspan x="978">126715</tspan></text>
<text class="c" y="101.5"><tspan x="243">0.00%</tspan><tspan x="488">21.85%</tspan><tspan x="733">9.35%</tspan><tspan x="978">0.00%</tspan></text>
</g>

<g id="row34" transform="translate(32,5266.3)">
<text class="mn" y="-7"><tspan x="0">133</tspan><tspan x="245">134</tspan><tspan x="490">135</tspan><tspan x="735">136</tspan></text>
<g transform="scale(30.625,15)"><use href="#grid4"/><use href="#pA"/></g>
<text class="a" y="75.5"><tspan x="243">216</tspan><tspan x="488">144</tspan><tspan x="733">144</tspan><tspan x="978">240</tspan></text>
<text class="b" y="88.5"><tspan x="243">128011</tspan><tspan x="488">128875</tspan><tspan x="733">129739</tspan><tspan x="978">131179</tspan></text>
<text class="c" y="101.5"><tspan x="243">0.00%</tspan><tspan x="488">0.00%</tspan><tspan x="733">0.00%</tspan><tspan x="978">0.00%</tspan></text>
</g>

<g id="row35" transform="translate(32,5419.3)">
<text class="mn" y="-7"><tspan x="0">137</tspan><tspan x="245">138</tspan><tspan x="490">139</tspan><tspan x="735">140</tspan></text>
<g transform="scale(30.625,15)"><use href="#grid4"/><use href="#pE"/><use href="#g" x="5"/><use href="#g" x="7"/><use href="#r" x="8"/><use href="#y" x="4"/><use href="#b" x="2"/></g>
<text class="a" y="75.5"><tspan x="243">145</tspan><tspan x="488">252</tspan><tspan x="733">216</tspan><tspan x="978">216</tspan></text>
<text class="b" y="88.5"><tspan x="243">132049</tspan><tspan x="488">133561</tspan><tspan x="733">134857</tspan><tspan x="978">136153</tspan></text>
<text class="c" y="101.5"><tspan x="243">0.00%</tspan><tspan x="488">0.00%</tspan><tspan x="733">0.00%</tspan><tspan x="978">0.00%</tspan></text>
</g>

<g id="row36" transform="translate(32,5572.3)">
<text class="mn" y="-7"><tspan x="0">141</tspan><tspan x="245">142</tspan><tspan x="490">143</tspan><tspan x="735">144</tspan></text>
<g transform="scale(30.625,15)"><use href="#grid4"/><use href="#g" x="5"/><use href="#g" x="7"/><use href="#g" x="16"/><use href="#g" x="26"/><use href="#r" x="1.5"/><use href="#r" x="12"/><use href="#r" x="28"/><use href="#r" x="29.5"/><use href="#y" x="4"/><use href="#y" x="10"/><use href="#y" x="14"/><use href="#y" x="18"/><use href="#y" x="20"/><use href="#y" x="25.5"/><use href="#b" x="0"/><use href="#b" x="2"/><use href="#b" x="8"/><use href="#b" x="22"/><use href="#b" x="27"/><use href="#o" x="3"/><use href="#o" x="24"/><use href="#o" x="30"/></g>
<text class="a" y="75.5"><tspan x="243">252</tspan><tspan x="488">144</tspan><tspan x="733">144</tspan><tspan x="978">252</tspan></text>
<text class="b" y="88.5"><tspan x="243">137665</tspan><tspan x="488">138529</tspan><tspan x="733">139393</tspan><tspan x="978">140905</tspan></text>
<text class="c" y="101.5"><tspan x="243">0.00%</tspan><tspan x="488">0.00%</tspan><tspan x="733">0.00%</tspan><tspan x="978">0.00%</tspan></text>
</g>

<g id="row37" transform="translate(32,5725.3)">
<text class="mn" y="-7"><tspan x="0">145</tspan><tspan x="245">146</tspan></text>
<g transform="scale(30.625,15)"><use href="#grid2"/><use href="#r" x="2"/><use href="#r" x="5"/><use href="#r" x="7"/><use href="#r" x="8"/><use href="#r" x="10"/><use href="#r" x="13"/><use href="#r" x="14"/><use href="#y" x="4"/><use href="#y" x="7.5"/><use href="#y" x="12"/><use href="#b" x="1"/><use href="#b" x="11"/></g>
<text class="a" y="75.5"><tspan x="243">216</tspan><tspan x="488">216</tspan></text>
<text class="b" y="88.5"><tspan x="243">142201</tspan><tspan x="488">143497</tspan></text>
<text class="c" y="101.5"><tspan x="243">0.00%</tspan><tspan x="488">0.00%</tspan></text>
</g>
</g>
</svg>
